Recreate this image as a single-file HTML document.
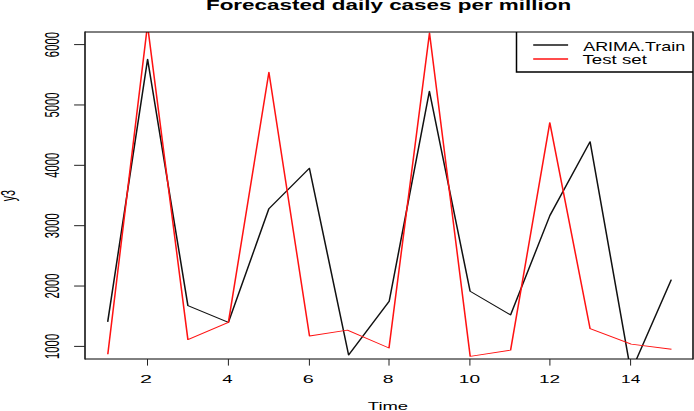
<!DOCTYPE html>
<html><head><meta charset="utf-8"><style>
html,body{margin:0;padding:0;background:#fff;}
svg{display:block;}
text{font-family:"Liberation Sans",sans-serif;fill:#000;}
</style></head><body>
<svg width="694" height="411" viewBox="0 0 694 411">
<defs><clipPath id="c"><rect x="50.000" y="32.0" width="357.647" height="327.0"/></clipPath></defs>
<g transform="scale(1.7,1)">
<g clip-path="url(#c)" fill="none" stroke-width="0.9" stroke-linejoin="round">
<polyline points="63.353,321.90 86.824,59.20 110.529,305.60 134.353,322.40 158.176,208.70 182.000,168.20 205.059,355.00 228.941,301.30 252.588,91.30 276.529,291.20 300.353,314.90 323.471,215.50 347.118,141.70 371.118,372.00 394.882,279.60" stroke="#111"/>
<polyline points="63.412,354.30 86.765,25.00 110.529,339.60 134.353,322.40 158.176,72.20 182.059,336.00 204.353,330.10 228.824,348.00 252.647,33.00 276.588,356.40 300.353,350.10 323.412,122.60 347.118,328.70 371.294,344.10 395.000,349.20" stroke="#ff1212"/>
</g>
</g>
<g fill="none" stroke="#000">
<path d="M85.0,32.0H693.0M85.0,359.0H693.0" stroke-width="1"/>
<path d="M85.0,31.5V359.5M693.0,31.5V359.5" stroke-width="1.7" stroke="#222"/>
<path d="M147.50,359.0V365.6M228.40,359.0V365.6M309.40,359.0V365.6M389.00,359.0V365.6M469.90,359.0V365.6M549.90,359.0V365.6M630.60,359.0V365.6M74.1,346.40H85.0M74.1,286.04H85.0M74.1,225.68H85.0M74.1,165.32H85.0M74.1,104.96H85.0M74.1,44.60H85.0" stroke-width="1" stroke="#222"/>
</g>
<g fill="none">
<path d="M516.5,32.0V72H693.0" stroke="#000" stroke-width="1.5"/>
<path d="M533.2,44.95H568.1" stroke="#151515" stroke-width="1.5"/>
<path d="M533.2,59H568.1" stroke="#ff1010" stroke-width="1.5"/>
</g>
<text transform="translate(205.93,9.90) scale(1.6033,1)" font-size="14" font-weight="bold">Forecasted daily cases per million</text><text transform="translate(583.20,50.50) scale(1.4716,1)" font-size="12.2" font-weight="normal">ARIMA.Train</text><text transform="translate(582.53,63.80) scale(1.5315,1)" font-size="12.2" font-weight="normal">Test set</text><text transform="translate(367.83,410.10) scale(1.6038,1)" font-size="11.5" font-weight="normal">Time</text>
<text transform="translate(140.12,382.9) scale(1.8395,1)" font-size="11.7">2</text><text transform="translate(222.23,382.9) scale(1.5921,1)" font-size="11.7">4</text><text transform="translate(302.71,382.9) scale(1.6908,1)" font-size="11.7">6</text><text transform="translate(382.83,382.9) scale(1.6548,1)" font-size="11.7">8</text><text transform="translate(458.77,382.9) scale(1.6317,1)" font-size="11.7">10</text><text transform="translate(538.97,382.9) scale(1.6309,1)" font-size="11.7">12</text><text transform="translate(621.02,382.9) scale(1.4786,1)" font-size="11.7">14</text>
<text transform="translate(58.6,346.40) scale(1.72,1) rotate(-90)" text-anchor="middle" font-size="11.3">1000</text><text transform="translate(58.6,286.04) scale(1.72,1) rotate(-90)" text-anchor="middle" font-size="11.3">2000</text><text transform="translate(58.6,225.68) scale(1.72,1) rotate(-90)" text-anchor="middle" font-size="11.3">3000</text><text transform="translate(58.6,165.32) scale(1.72,1) rotate(-90)" text-anchor="middle" font-size="11.3">4000</text><text transform="translate(58.6,104.96) scale(1.72,1) rotate(-90)" text-anchor="middle" font-size="11.3">5000</text><text transform="translate(58.6,44.60) scale(1.72,1) rotate(-90)" text-anchor="middle" font-size="11.3">6000</text>
<text transform="translate(14.9,195.6) scale(1.8,1) rotate(-90)" text-anchor="middle" font-size="10.8">y3</text>
</svg>
</body></html>
